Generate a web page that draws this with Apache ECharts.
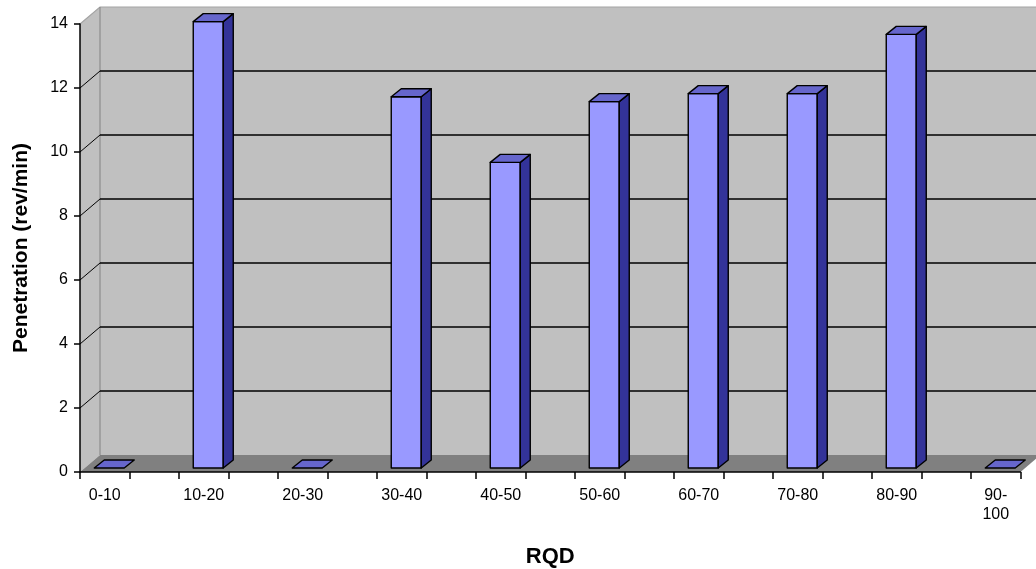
<!DOCTYPE html>
<html>
<head>
<meta charset="utf-8">
<title>Penetration vs RQD</title>
<script src="https://cdn.jsdelivr.net/npm/echarts@6/dist/echarts.min.js"></script>
<style>
  html, body { margin: 0; padding: 0; background: #ffffff; }
  #chart { width: 1036px; height: 569px; }
</style>
</head>
<body>
<div id="chart"></div>
<script>
// RQD classes and the measured penetration rate for each class
const categories = ['0-10', '10-20', '20-30', '30-40', '40-50', '50-60', '60-70', '70-80', '80-90', '90-100'];
const penetration = [0, 13.95, 0, 11.6, 9.55, 11.45, 11.7, 11.7, 13.55, 0];
const yTicks = [0, 2, 4, 6, 8, 10, 12, 14];

// Each class occupies two half-width slots on the category axis; the bar sits in the first one.
const slots = [];
categories.forEach((c, i) => {
  slots.push(c);
  if (i < categories.length - 1) slots.push('');
});
const slotIds = slots.map((_, i) => String(i));

const FONT = "'Liberation Sans', Arial, sans-serif";

// Oblique depth of the back wall and of the columns
const WALL_DX = 20, WALL_DY = -17;
const FRONT_DX = 4.5, FRONT_DY = -4;
const BAR_DX = 10, BAR_DY = -8;
const BAR_HALF = 15;

function renderWalls(params, api) {
  const cs = params.coordSys;
  const left = cs.x, top = cs.y, right = cs.x + cs.width, bottom = cs.y + cs.height;
  const children = [];
  // back wall
  children.push({
    type: 'rect',
    shape: { x: left + WALL_DX, y: top + WALL_DY, width: cs.width, height: cs.height },
    style: { fill: '#c0c0c0' }
  });
  // side wall
  children.push({
    type: 'polygon',
    shape: { points: [[left, top], [left + WALL_DX, top + WALL_DY], [left + WALL_DX, bottom + WALL_DY], [left, bottom]] },
    style: { fill: '#c0c0c0' }
  });
  // floor
  children.push({
    type: 'polygon',
    shape: { points: [[left, bottom], [left + WALL_DX, bottom + WALL_DY], [right + WALL_DX, bottom + WALL_DY], [right, bottom]] },
    style: { fill: '#808080' }
  });
  // wall edges
  children.push({
    type: 'polyline',
    shape: { points: [[left, top], [left + WALL_DX, top + WALL_DY], [right + WALL_DX, top + WALL_DY]] },
    style: { stroke: '#a4a4a4', lineWidth: 1.2, fill: null }
  });
  children.push({
    type: 'line',
    shape: { x1: left + WALL_DX, y1: top + WALL_DY, x2: left + WALL_DX, y2: bottom + WALL_DY },
    style: { stroke: '#8c8c8c', lineWidth: 1.2 }
  });
  // gridlines across the side wall and the back wall
  yTicks.forEach((t) => {
    if (t === yTicks[0] || t === yTicks[yTicks.length - 1]) return;
    const y = api.coord([0, t])[1];
    children.push({
      type: 'line',
      shape: { x1: left, y1: y, x2: left + WALL_DX, y2: y + WALL_DY },
      style: { stroke: '#000', lineWidth: 1 }
    });
    children.push({
      type: 'line',
      shape: { x1: left + WALL_DX, y1: y + WALL_DY, x2: right + WALL_DX, y2: y + WALL_DY },
      style: { stroke: '#000', lineWidth: 1.5 }
    });
  });
  return { type: 'group', children: children };
}

function renderBar(params, api) {
  const slot = api.value(0);
  const v = api.value(1);
  const base = api.coord([slot, 0]);
  const peak = api.coord([slot, v]);
  const l = base[0] + FRONT_DX - BAR_HALF;
  const r = base[0] + FRONT_DX + BAR_HALF;
  const b = base[1] + FRONT_DY;
  const t = peak[1] + FRONT_DY;
  const edge = { stroke: '#000', lineWidth: 1.4, lineJoin: 'round' };
  const children = [];
  if (b - t > 0.5) {
    children.push({
      type: 'rect',
      shape: { x: l, y: t, width: r - l, height: b - t },
      style: Object.assign({ fill: '#9999ff' }, edge)
    });
    children.push({
      type: 'polygon',
      shape: { points: [[r, b], [r + BAR_DX, b + BAR_DY], [r + BAR_DX, t + BAR_DY], [r, t]] },
      style: Object.assign({ fill: '#333399' }, edge)
    });
  }
  children.push({
    type: 'polygon',
    shape: { points: [[l, t], [l + BAR_DX, t + BAR_DY], [r + BAR_DX, t + BAR_DY], [r, t]] },
    style: Object.assign({ fill: '#6666cc' }, edge)
  });
  return { type: 'group', children: children };
}

const chart = echarts.init(document.getElementById('chart'), null, { renderer: 'canvas' });

chart.setOption({
  backgroundColor: '#ffffff',
  animation: false,
  grid: { left: 80, top: 24, width: 940.5, height: 448, containLabel: false, outerBoundsMode: 'none' },
  xAxis: {
    type: 'category',
    data: slotIds,
    boundaryGap: true,
    name: 'RQD',
    nameLocation: 'middle',
    nameGap: 74,
    nameTextStyle: { fontFamily: FONT, fontSize: 22, fontWeight: 'bold', color: '#000' },
    axisLine: { show: true, lineStyle: { color: '#000', width: 1.5 } },
    axisTick: { show: true, interval: 0, length: 7, lineStyle: { color: '#000', width: 1.5 } },
    axisLabel: {
      interval: 0,
      margin: 14,
      fontFamily: FONT,
      fontSize: 16,
      lineHeight: 19,
      color: '#000',
      formatter: (val, idx) => {
        const s = slots[idx] || '';
        return s.length > 5 ? s.replace('-', '-\n') : s;
      }
    },
    splitLine: { show: false }
  },
  yAxis: {
    type: 'value',
    min: 0,
    max: 14,
    interval: 2,
    name: 'Penetration (rev/min)',
    nameLocation: 'middle',
    nameGap: 48,
    nameRotate: 90,
    nameTextStyle: { fontFamily: FONT, fontSize: 21, fontWeight: 'bold', color: '#000' },
    axisLine: { show: true, lineStyle: { color: '#000', width: 1.5 } },
    axisTick: { show: true, length: 6, lineStyle: { color: '#000', width: 1.5 } },
    axisLabel: { margin: 12, fontFamily: FONT, fontSize: 16, color: '#000',
      formatter: (v) => (yTicks.indexOf(v) >= 0 ? String(v) : '') },
    splitLine: { show: false }
  },
  series: [
    {
      name: 'walls',
      type: 'custom',
      z: -1,
      silent: true,
      renderItem: renderWalls,
      data: [[0, 0]],
      encode: { x: 0, y: 1 }
    },
    {
      name: 'Penetration',
      type: 'custom',
      z: 3,
      renderItem: renderBar,
      data: penetration.map((v, i) => [2 * i, v]),
      encode: { x: 0, y: 1 }
    }
  ]
});
</script>
</body>
</html>
